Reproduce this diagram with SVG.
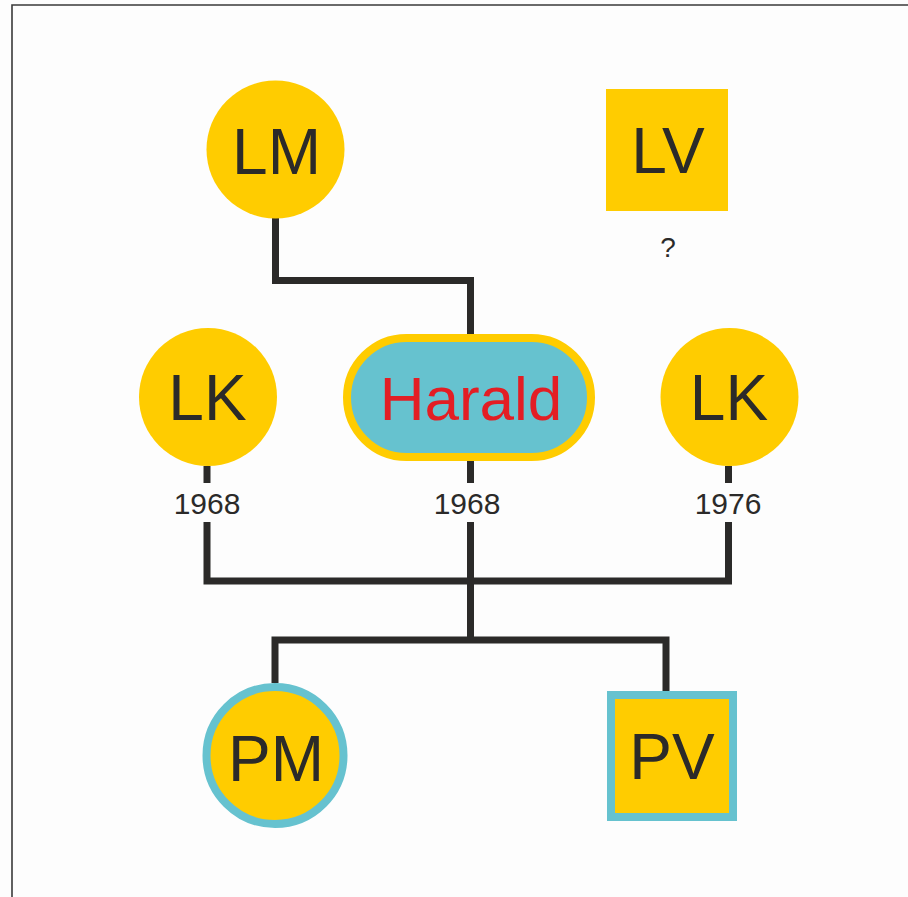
<svg xmlns="http://www.w3.org/2000/svg" width="908" height="897" viewBox="0 0 908 897">
<style>
.bg{fill:#fdfdfd}
.frame{fill:none;stroke:#3a3a3a;stroke-width:1.6}
.yel{fill:#ffcc00}
.lbl{font-family:"Liberation Sans",Arial,sans-serif;fill:#2b2a29;text-anchor:middle}
.big{font-size:64px}
.yr{font-size:30px}
.link{fill:none;stroke:#2b2a29;stroke-width:7;stroke-linejoin:miter;stroke-linecap:butt}
.child{fill:#ffcc00;stroke:#66c2cf;stroke-width:8}
</style>
<rect class="bg" x="0" y="0" width="908" height="897"/>
<path class="frame" d="M12 897 V5 H908"/>
<g id="connectors">
<polyline class="link" points="275.5,218 275.5,280.5 470.5,280.5 470.5,334"/>
<polyline class="link" points="207,466 207,483"/>
<polyline class="link" points="470.5,461 470.5,483"/>
<polyline class="link" points="728.5,466 728.5,483"/>
<polyline class="link" points="207,522 207,581 728.5,581 728.5,522"/>
<polyline class="link" points="470.5,522 470.5,640"/>
<polyline class="link" points="275,683 275,640 666,640 666,691"/>
</g>
<g id="node-LM">
<circle class="yel" cx="275.5" cy="149.5" r="69"/>
<text class="lbl big" x="276.5" y="174">LM</text>
</g>
<g id="node-LV">
<rect class="yel" x="606" y="89" width="122" height="122"/>
<text class="lbl big" x="668" y="172.5">LV</text>
<text class="lbl" x="668" y="257" font-size="28">?</text>
</g>
<g id="node-LK-left">
<circle class="yel" cx="208" cy="397" r="69"/>
<text class="lbl big" x="207.5" y="420">LK</text>
</g>
<g id="node-Harald">
<rect x="347" y="338" width="244" height="119" rx="59.5" ry="59.5" fill="#66c2cf" stroke="#ffcc00" stroke-width="8"/>
<text x="471" y="420" font-family="'Liberation Sans',Arial,sans-serif" font-size="62" fill="#e31e24" text-anchor="middle">Harald</text>
</g>
<g id="node-LK-right">
<circle class="yel" cx="729.5" cy="397" r="69"/>
<text class="lbl big" x="729" y="420">LK</text>
</g>
<g id="years">
<text class="lbl yr" x="207" y="514">1968</text>
<text class="lbl yr" x="467" y="514">1968</text>
<text class="lbl yr" x="728" y="514">1976</text>
</g>
<g id="node-PM">
<circle class="child" cx="275" cy="755.5" r="68.5"/>
<text class="lbl big" x="276" y="781">PM</text>
</g>
<g id="node-PV">
<rect class="child" x="611" y="695" width="122" height="122"/>
<text class="lbl big" x="672" y="779">PV</text>
</g>
</svg>
